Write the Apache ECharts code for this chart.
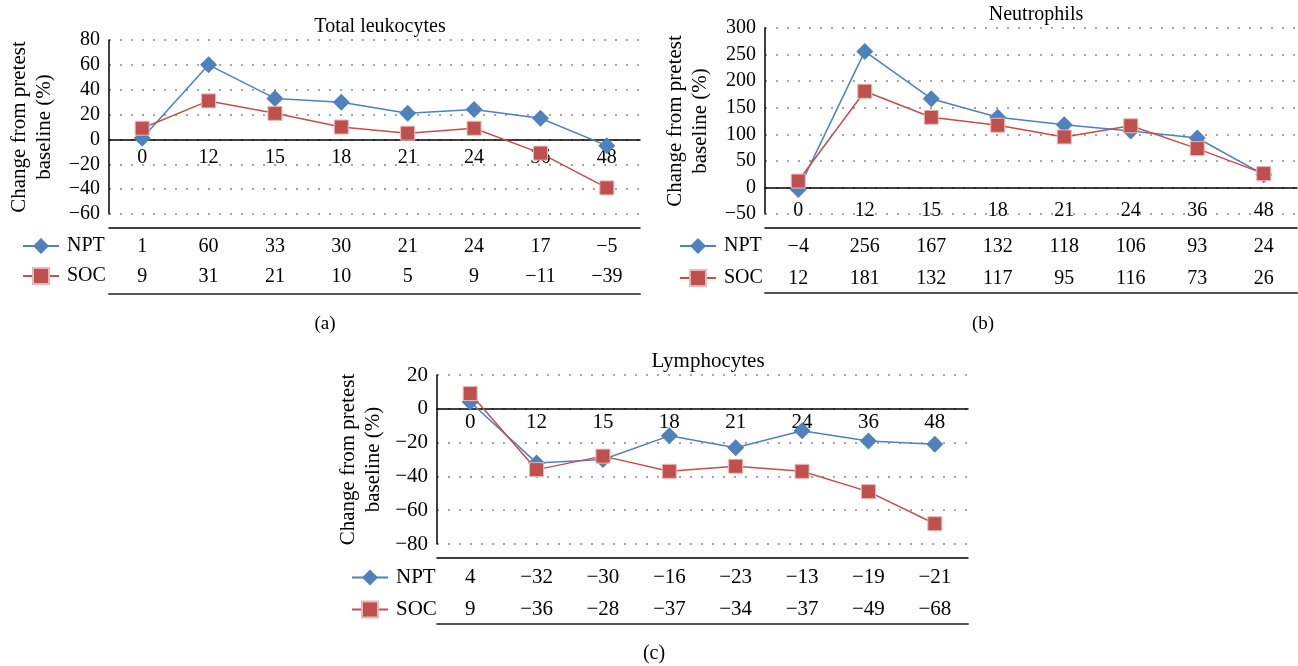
<!DOCTYPE html>
<html>
<head>
<meta charset="utf-8">
<title>Change from pretest baseline</title>
<script src="https://cdn.jsdelivr.net/npm/echarts@6/dist/echarts.min.js"></script>
<style>
  html, body { margin: 0; padding: 0; background: #fff; }
  #chart { width: 1298px; height: 666px; }
</style>
</head>
<body>
<div id="chart"></div>
<script>
// hours after exercise test
var hours = ['0', '12', '15', '18', '21', '24', '36', '48']

// (a) total leukocytes
var leukoNPT = [1, 60, 33, 30, 21, 24, 17, -5]
var leukoSOC = [9, 31, 21, 10, 5, 9, -11, -39]
var leukoTicks = [-60, 80, 20] // min, max, step

// (b) neutrophils
var neutNPT = [-4, 256, 167, 132, 118, 106, 93, 24]
var neutSOC = [12, 181, 132, 117, 95, 116, 73, 26]
var neutTicks = [-50, 300, 50]

// (c) lymphocytes
var lymphNPT = [4, -32, -30, -16, -23, -13, -19, -21]
var lymphSOC = [9, -36, -28, -37, -34, -37, -49, -68]
var lymphTicks = [-80, 20, 20]

var FONT = 'Liberation Serif'
var BLUE = '#4F81BD'
var RED = '#C0504D'

function minus(v) {
  return v < 0 ? '\u2212' + (-v) : String(v)
}

// layout of the three panels (pixels)
var panels = [
  {
    title: 'Total leukocytes', tag: '(a)', npt: leukoNPT, soc: leukoSOC, ticks: leukoTicks,
    grid: { left: 109, top: 40, width: 531, height: 174 },
    titlePos: [375, 12], tagPos: [320, 310], fs: 20, catMargin: 8,
    rowTop: 14, nptMargin: 9, socMargin: 39, bottomOff: 80,
    legend: { left: 17, top: 231, gap: 10 }, nameGap: 52
  },
  {
    title: 'Neutrophils', tag: '(b)', npt: neutNPT, soc: neutSOC, ticks: neutTicks,
    grid: { left: 765, top: 28, width: 532, height: 186 },
    titlePos: [1031, 0], tagPos: [978, 310], fs: 20, catMargin: 13,
    rowTop: 14, nptMargin: 9, socMargin: 41, bottomOff: 79,
    legend: { left: 674, top: 231, gap: 12 }, nameGap: 52
  },
  {
    title: 'Lymphocytes', tag: '(c)', npt: lymphNPT, soc: lymphSOC, ticks: lymphTicks,
    grid: { left: 437, top: 375, width: 531, height: 169 },
    titlePos: [703, 346], tagPos: [649, 639], fs: 21, catMargin: 3,
    rowTop: 14, nptMargin: 9, socMargin: 41, bottomOff: 80,
    legend: { left: 346, top: 562, gap: 11 }, nameGap: 51
  }
]

var chart = echarts.init(document.getElementById('chart'))

var option = {
  animation: false,
  textStyle: { fontFamily: FONT, color: '#000' },
  title: [],
  legend: [],
  grid: [],
  xAxis: [],
  yAxis: [],
  series: []
}

panels.forEach(function (p, i) {
  option.grid.push(p.grid)

  option.title.push({
    text: p.title, left: p.titlePos[0], top: p.titlePos[1], textAlign: 'center',
    textStyle: { fontFamily: FONT, fontSize: p.fs, fontWeight: 'normal', color: '#000' }
  })
  option.title.push({
    text: p.tag, left: p.tagPos[0], top: p.tagPos[1], textAlign: 'center',
    textStyle: { fontFamily: FONT, fontSize: p.fs - 1, fontWeight: 'normal', color: '#000' }
  })

  option.legend.push({
    data: ['NPT', 'SOC'],
    orient: 'vertical',
    left: p.legend.left,
    top: p.legend.top,
    itemWidth: 36,
    itemHeight: 20,
    itemGap: p.legend.gap,
    selectedMode: false,
    textStyle: { fontFamily: FONT, fontSize: p.fs, lineHeight: 18, color: '#000', padding: [0, 0, 0, 3] }
  })

  option.yAxis.push({
    type: 'value',
    gridIndex: i,
    min: p.ticks[0],
    max: p.ticks[1],
    interval: p.ticks[2],
    name: 'Change from pretest\nbaseline (%)',
    nameLocation: 'middle',
    nameGap: p.nameGap,
    nameTextStyle: { fontFamily: FONT, fontSize: 21, lineHeight: 25, color: '#000' },
    axisLine: { show: true, lineStyle: { color: '#000', width: 1.5 } },
    axisTick: { show: false },
    axisLabel: { fontFamily: FONT, fontSize: p.fs, color: '#000', margin: 9, formatter: minus },
    splitLine: { show: true, lineStyle: { color: '#888', width: 1.5, type: [2, 9] } }
  })

  // the zero line sits this far above the grid bottom
  var zeroOffset = p.grid.height * (0 - p.ticks[0]) / (p.ticks[1] - p.ticks[0])
  var rows = [p.npt, p.soc]

  // main category axis drawn along zero
  option.xAxis.push({
    type: 'category',
    gridIndex: i,
    data: hours,
    position: 'bottom',
    offset: -zeroOffset,
    axisLine: { onZero: false, lineStyle: { color: '#000', width: 1.5 } },
    axisTick: { show: false },
    axisLabel: { fontFamily: FONT, fontSize: p.fs, color: '#000', margin: p.catMargin }
  })
  // data table rows below the plot
  option.xAxis.push({
    type: 'category',
    gridIndex: i,
    data: hours,
    position: 'bottom',
    offset: p.rowTop,
    axisLine: { onZero: false, lineStyle: { color: '#000', width: 1.5 } },
    axisTick: { show: false },
    axisLabel: {
      fontFamily: FONT, fontSize: p.fs, color: '#000', margin: p.nptMargin,
      formatter: function (v, idx) { return minus(rows[0][idx]) }
    }
  })
  option.xAxis.push({
    type: 'category',
    gridIndex: i,
    data: hours,
    position: 'bottom',
    offset: p.rowTop,
    axisLine: { show: false, onZero: false },
    axisTick: { show: false },
    axisLabel: {
      fontFamily: FONT, fontSize: p.fs, color: '#000', margin: p.socMargin,
      formatter: function (v, idx) { return minus(rows[1][idx]) }
    }
  })
  option.xAxis.push({
    type: 'category',
    gridIndex: i,
    data: hours,
    position: 'bottom',
    offset: p.bottomOff,
    axisLine: { onZero: false, lineStyle: { color: '#555', width: 2 } },
    axisTick: { show: false },
    axisLabel: { show: false }
  })

  option.series.push({
    name: 'NPT',
    type: 'line',
    xAxisIndex: i * 4,
    yAxisIndex: i,
    data: p.npt,
    symbol: 'diamond',
    symbolSize: 17,
    itemStyle: { color: BLUE },
    lineStyle: { color: BLUE, width: 1.5 },
    z: 3
  })
  option.series.push({
    name: 'SOC',
    type: 'line',
    xAxisIndex: i * 4,
    yAxisIndex: i,
    data: p.soc,
    symbol: 'rect',
    symbolSize: 14,
    itemStyle: { color: RED, borderColor: '#E6B9B8', borderWidth: 1 },
    lineStyle: { color: RED, width: 1.5 },
    z: 4
  })
})

chart.setOption(option)
</script>
</body>
</html>
